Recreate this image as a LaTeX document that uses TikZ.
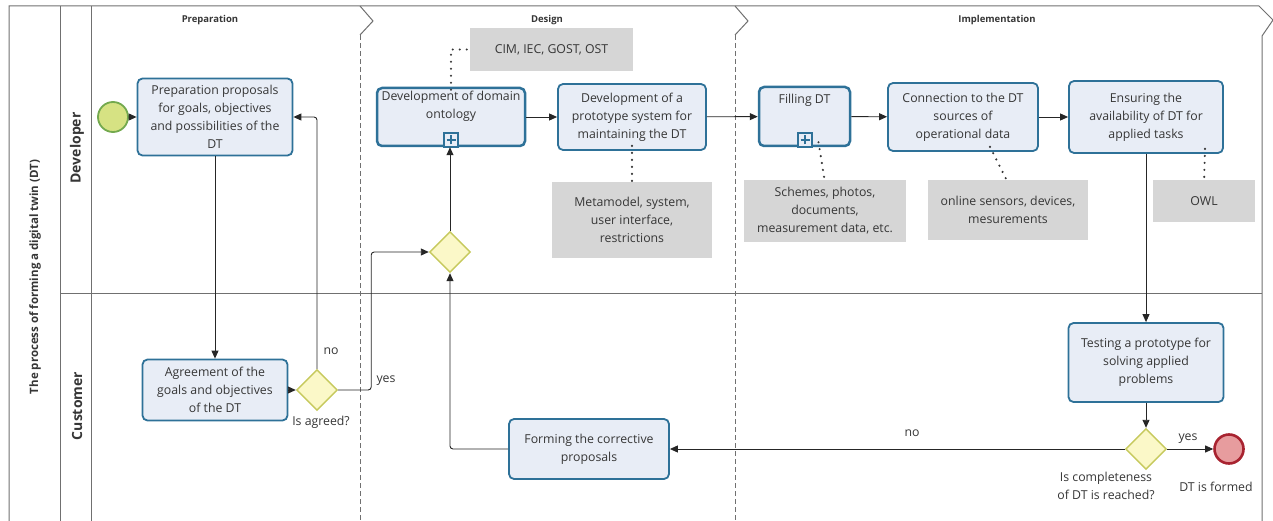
\documentclass[tikz,border=0pt]{standalone}
\usepackage{fontspec}
\setmainfont{Open Sans}
\usetikzlibrary{arrows.meta,shapes.geometric}

\definecolor{taskfill}{HTML}{E8EDF6}
\definecolor{taskline}{HTML}{2E7198}
\definecolor{gwfill}{HTML}{FBF8C8}
\definecolor{gwline}{HTML}{C6C95C}
\definecolor{startfill}{HTML}{D6E283}
\definecolor{startline}{HTML}{73A94E}
\definecolor{endfill}{HTML}{E79C9E}
\definecolor{endline}{HTML}{A82330}
\definecolor{notefill}{HTML}{D6D6D6}
\definecolor{txt}{HTML}{363636}
\definecolor{framecol}{HTML}{707070}

\tikzset{
  x=1pt, y=-1pt,
  body/.style={font=\fontsize{12.3}{18}\selectfont, text=txt},
  task/.style={body, draw=taskline, fill=taskfill, line width=1.8pt,
    rounded corners=5pt, align=center, inner sep=0pt},
  subtask/.style={task, line width=2.5pt},
  note/.style={body, fill=notefill, draw=none, align=center, inner sep=0pt},
  gateway/.style={diamond, draw=gwline, fill=gwfill, line width=1.4pt,
    minimum width=41pt, minimum height=41pt, inner sep=0pt},
  flow/.style={draw=black!85, line width=0.9pt, rounded corners=3pt,
    -{Triangle[length=8pt,width=7pt]}},
  assoc/.style={draw=txt, line width=2.4pt, line cap=round,
    dash pattern=on 0pt off 7pt},
  lbl/.style={body, inner sep=0pt, align=center},
  phase/.style={font=\fontsize{9.5}{11}\selectfont\bfseries, text=txt},
  lane/.style={font=\fontsize{14}{16}\selectfont\bfseries, text=txt, rotate=90},
  pool/.style={font=\fontsize{11.5}{13}\selectfont\bfseries, text=txt, rotate=90},
  frameline/.style={draw=framecol, line width=1pt},
  plusbox/.style={draw=taskline, fill=taskfill, line width=1.3pt,
    minimum width=14pt, minimum height=14pt, inner sep=0pt}
}

\begin{document}
\begin{tikzpicture}
\useasboundingbox (0,0) rectangle (1273,521);

% pool and lane frame
\draw[frameline] (9,521) -- (9,6) -- (1259,6) -- (1273,20) -- (1262,36) -- (1262,521);
\draw[frameline] (60,6) -- (60,521);
\draw[frameline] (91,6) -- (91,521);
\draw[frameline] (60,293) -- (1262,293);

% phase separators
\draw[frameline] (360,6) -- (373,21) -- (360,35);
\draw[frameline, dashed, dash pattern=on 5pt off 3pt] (360,35) -- (360,521);
\draw[frameline] (735,6) -- (748,21) -- (735,35);
\draw[frameline, dashed, dash pattern=on 5pt off 3pt] (735,35) -- (735,521);

% headers
\node[phase] (phprep) at (210,20) {Preparation};
\node[phase] (phdes) at (547,20) {Design};
\node[phase] (phimp) at (997,20) {Implementation};
\node[pool] (poolname) at (35,277) {The process of forming a digital twin (DT)};
\node[lane] (lanedev) at (77,148) {Developer};
\node[lane] (lanecus) at (77,406) {Customer};

% events, tasks and gateways
\node[circle, draw=startline, fill=startfill, line width=1.8pt,
      minimum size=30pt, inner sep=0pt] (start) at (113,117) {};
\node[task, minimum width=155pt, minimum height=77pt] (prep) at (215,117)
  {Preparation proposals\\for goals, objectives\\and possibilities of the\\DT};
\node[task, minimum width=145pt, minimum height=61pt] (agree) at (215,390)
  {Agreement of the\\goals and objectives\\of the DT};
\node[gateway] (gw1) at (317,390) {};
\node[gateway] (gw2) at (450,252) {};

\node[subtask, minimum width=148pt, minimum height=58pt] (onto) at (451,117) {};
\node[body, align=center, inner sep=0pt] (ontotext) at (451,106)
  {Development of domain\\ontology};
\node[plusbox] (ontoplus) at (451,140) {};
\draw[taskline, line width=2.4pt] ([xshift=-4.5pt]ontoplus.center) -- ([xshift=4.5pt]ontoplus.center);
\draw[taskline, line width=2.4pt] ([yshift=-4.5pt]ontoplus.center) -- ([yshift=4.5pt]ontoplus.center);

\node[task, minimum width=148pt, minimum height=66pt] (proto) at (632,117)
  {Development of a\\prototype system for\\maintaining the DT};

\node[subtask, minimum width=91pt, minimum height=59pt] (fill) at (804.5,116.5) {};
\node[body, inner sep=0pt] (filltext) at (804.5,100) {Filling DT};
\node[plusbox] (fillplus) at (805,140) {};
\draw[taskline, line width=2.4pt] ([xshift=-4.5pt]fillplus.center) -- ([xshift=4.5pt]fillplus.center);
\draw[taskline, line width=2.4pt] ([yshift=-4.5pt]fillplus.center) -- ([yshift=4.5pt]fillplus.center);

\node[task, minimum width=150pt, minimum height=68pt] (conn) at (963,117)
  {Connection to the DT\\sources of\\operational data};
\node[task, minimum width=154pt, minimum height=72pt] (ensure) at (1146,117)
  {Ensuring the\\availability of DT for\\applied tasks};
\node[task, minimum width=155pt, minimum height=79pt] (test) at (1146,362.5)
  {Testing a prototype for\\solving applied\\problems};
\node[gateway] (gw3) at (1146,449) {};
\node[circle, draw=endline, fill=endfill, line width=2.6pt,
      minimum size=29pt, inner sep=0pt] (end) at (1229,449) {};
\node[task, minimum width=160pt, minimum height=60pt] (form) at (589,449)
  {Forming the corrective\\proposals};

% annotations
\node[note, minimum width=163pt, minimum height=43pt] (cim) at (551.5,49.5) {CIM, IEC, GOST, OST};
\node[note, minimum width=160pt, minimum height=76pt] (meta) at (632,220)
  {Metamodel, system,\\user interface,\\restrictions};
\node[note, minimum width=162pt, minimum height=62pt] (schemes) at (825,211)
  {Schemes, photos,\\documents,\\measurement data, etc.};
\node[note, minimum width=160pt, minimum height=60pt] (online) at (1008,210)
  {online sensors, devices,\\mesurements};
\node[note, minimum width=102pt, minimum height=42pt] (owl) at (1204,201) {OWL};

\draw[assoc] ([yshift=-3pt]onto.north) |- ([xshift=-2pt]cim.west);
\draw[assoc] ([yshift=5pt]proto.south) -- ([yshift=-3pt]meta.north);
\draw[assoc] ([xshift=14pt,yshift=5pt]fill.south) -- ([yshift=-3pt]schemes.north);
\draw[assoc] ([xshift=27pt,yshift=5pt]conn.south) -- ([yshift=-3pt]online.north);
\draw[assoc] ([xshift=59pt,yshift=5pt]ensure.south) -- ([yshift=-3pt]owl.north);

% sequence flows
\draw[flow] (start) -- (prep);
\draw[flow] (prep) -- (agree);
\draw[flow] (agree) -- (gw1);
\draw[flow] (gw1.north) |- (prep.east);
\draw[flow] (gw1.east) -- ++(33,0) |- (gw2.west);
\draw[flow] (gw2.north) -- (gw2.north |- onto.south);
\draw[flow] (onto) -- (proto);
\draw[flow] (proto) -- (fill);
\draw[flow] (fill) -- (conn);
\draw[flow] (conn) -- (ensure);
\draw[flow] (ensure) -- (test);
\draw[flow] (test) -- (gw3);
\draw[flow] (gw3) -- (end);
\draw[flow] (gw3) -- (form);
\draw[flow] (form.west) -| (gw2.south);

% flow and gateway labels
\node[lbl] (no1) at (331,351) {no};
\node[lbl] (yes1) at (386,381) {yes};
\node[lbl] (gw1lbl) at (321,422) {Is agreed?};
\node[lbl] (no2) at (912,433) {no};
\node[lbl] (yes2) at (1188,439) {yes};
\node[lbl] (gw3lbl) at (1106,486) {Is completeness\\of DT is reached?};
\node[lbl] (endlbl) at (1216,487) {DT is formed};
\end{tikzpicture}
\end{document}
